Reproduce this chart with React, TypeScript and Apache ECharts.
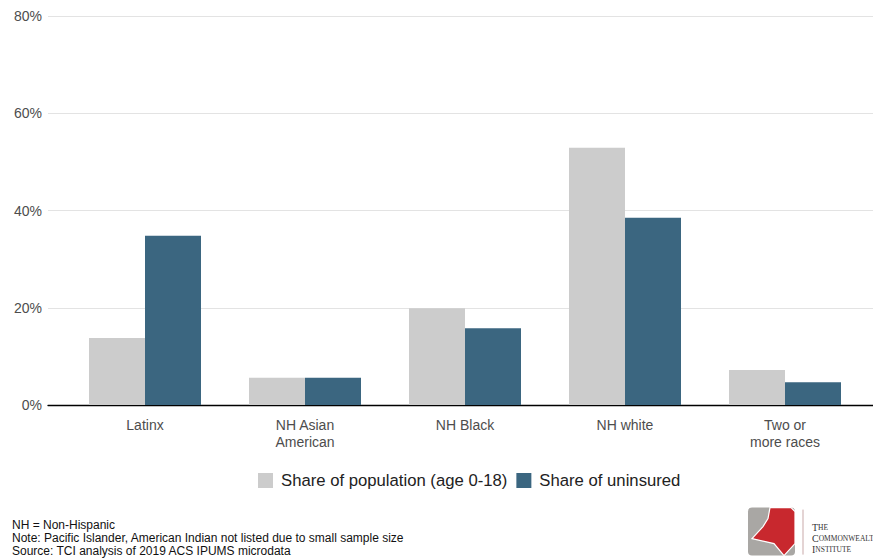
import React, { useEffect, useRef } from "react";
import * as echarts from "echarts";

const categories = ["Latinx", "NH Asian\nAmerican", "NH Black", "NH white", "Two or\nmore races"];
const populationShare = [13.8, 5.6, 19.9, 52.9, 7.2];
const uninsuredShare = [34.8, 5.6, 15.8, 38.5, 4.7];
const seriesNames = ["Share of population (age 0-18)", "Share of uninsured"];
const footnotes = [
  "NH = Non-Hispanic",
  "Note: Pacific Islander, American Indian not listed due to small sample size",
  "Source: TCI analysis of 2019 ACS IPUMS microdata",
];

export default function App() {
  const ref = useRef<HTMLDivElement>(null);
  useEffect(() => {
    if (!ref.current) return;
    const chart = echarts.init(ref.current, null, { renderer: "svg" });
    const font = "Liberation Sans, Arial, sans-serif";
    chart.setOption({
      animation: false,
      backgroundColor: "#ffffff",
      textStyle: { fontFamily: font },
      grid: [
        { left: 48, right: -8, top: 16, bottom: 154 },
        { left: 65, width: 800, top: 16, bottom: 154 },
      ],
      xAxis: [
        {
          gridIndex: 0,
          type: "value",
          min: 0,
          max: 1,
          axisLine: { show: true, onZero: false, lineStyle: { color: "#000", width: 1.3 } },
          axisTick: { show: false },
          axisLabel: { show: false },
          splitLine: { show: false },
        },
        {
          gridIndex: 1,
          type: "category",
          data: categories,
          axisLine: { show: false },
          axisTick: { show: false },
          axisLabel: {
            color: "#4d4d4d",
            fontSize: 14,
            lineHeight: 17,
            margin: 11,
            fontFamily: font,
            interval: 0,
          },
        },
      ],
      yAxis: [
        {
          gridIndex: 0,
          type: "value",
          min: 0,
          max: 80,
          interval: 20,
          axisLine: { show: false },
          axisTick: { show: false },
          axisLabel: { formatter: "{value}%", color: "#4d4d4d", fontSize: 14, margin: 6, fontFamily: font },
          splitLine: { show: true, lineStyle: { color: "#e3e3e3", width: 1 } },
        },
        {
          gridIndex: 1,
          type: "value",
          min: 0,
          max: 80,
          show: false,
          splitLine: { show: false },
        },
      ],
      legend: {
        left: 258,
        top: 472,
        padding: 0,
        itemWidth: 15,
        itemHeight: 15,
        itemGap: 9,
        icon: "rect",
        textStyle: { color: "#222", fontSize: 16.7, fontFamily: font, padding: [0, 0, 0, 3] },
        data: seriesNames,
      },
      series: [
        {
          name: seriesNames[0],
          type: "bar",
          xAxisIndex: 1,
          yAxisIndex: 1,
          data: populationShare,
          barWidth: 56,
          barGap: "0%",
          itemStyle: { color: "#cccccc" },
        },
        {
          name: seriesNames[1],
          type: "bar",
          xAxisIndex: 1,
          yAxisIndex: 1,
          data: uninsuredShare,
          barWidth: 56,
          barGap: "0%",
          itemStyle: { color: "#3b6680" },
        },
      ],
      graphic: [
        {
          type: "text",
          left: 12,
          top: 518,
          style: {
            text: footnotes.join("\n"),
            fontSize: 12,
            lineHeight: 13,
            fill: "#111",
            fontFamily: font,
          },
        },
        {
          type: "group",
          left: 748,
          top: 507,
          children: [
            { type: "rect", shape: { x: 0, y: 0, width: 47, height: 48, r: 4 }, style: { fill: "#a9a7a4" } },
            {
              type: "polygon",
              shape: {
                points: [
                  [22, 0], [43, 0], [47, 4], [47, 36], [36, 48], [26, 36], [4, 31], [15, 19], [20, 11],
                ],
              },
              style: { fill: "#c8282e", stroke: "#ffffff", lineWidth: 1.2 },
            },
            { type: "line", shape: { x1: 55, y1: 2, x2: 55, y2: 47 }, style: { stroke: "#c9a9a9", lineWidth: 1 } },
            {
              type: "text",
              x: 64,
              y: 14,
              style: {
                text: "{a|T}{b|HE}\n{a|C}{b|OMMONWEALTH}\n{a|I}{b|NSTITUTE}",
                fill: "#333",
                fontFamily: "Liberation Serif, serif",
                rich: {
                  a: { fontSize: 10, fontFamily: "Liberation Serif, serif", fill: "#333", lineHeight: 11 },
                  b: { fontSize: 7.5, fontFamily: "Liberation Serif, serif", fill: "#333", lineHeight: 11 },
                },
              },
            },
          ],
        },
      ],
    });
    return () => chart.dispose();
  }, []);
  return <div ref={ref} style={{ position: "absolute", left: 0, top: 0, width: 873, height: 559 }} />;
}
